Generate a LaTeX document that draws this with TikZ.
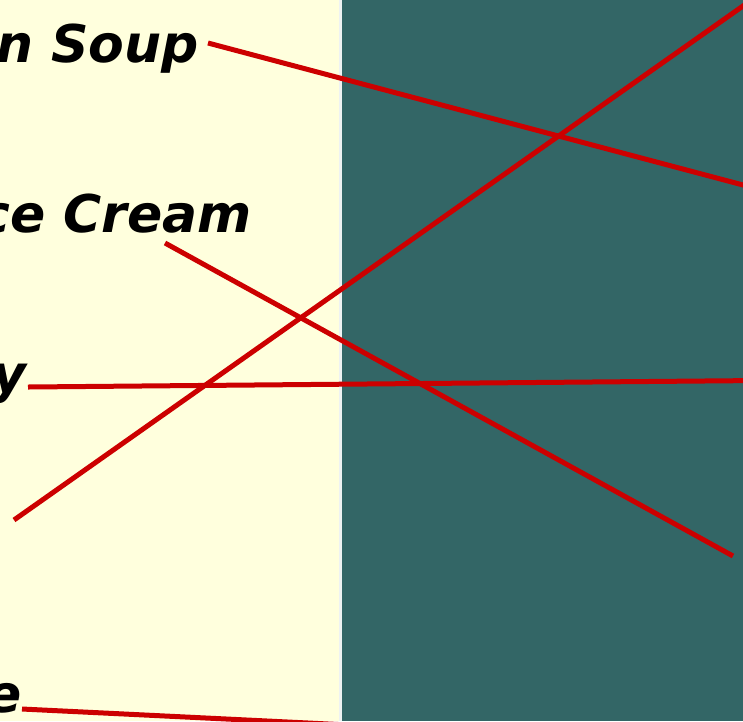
\documentclass[tikz,border=0pt]{standalone}
\usepackage{fontspec}
\setmainfont{DejaVu Sans}
\definecolor{bgyellow}{HTML}{FFFFDD}
\definecolor{bgteal}{HTML}{336666}
\definecolor{strip}{HTML}{EEF2F2}
\definecolor{linered}{HTML}{CC0000}
\begin{document}
\begin{tikzpicture}[x=1pt,y=-1pt,
  lbl/.style={font=\fontsize{52}{60}\selectfont\bfseries\itshape, inner sep=0pt, anchor=base east},
  link/.style={draw=linered, line width=5pt}]
\useasboundingbox (0,0) rectangle (743,721);
\clip (0,0) rectangle (743,721);
\fill[bgyellow] (0,0) rectangle (339,721);
\fill[strip] (339,0) rectangle (341.5,721);
\fill[bgteal] (341.5,0) rectangle (743,721);
\node[lbl] (soup) at (199,62) {n Soup};
\node[lbl] (cream) at (252,232) {ce Cream};
\node[lbl] (y) at (27,392) {y};
\node[lbl] (e) at (22,712) {e};
\coordinate (s1) at (208,43);
\coordinate (s2) at (760,189.5);
\coordinate (c1) at (165,243);
\coordinate (c2) at (733,556);
\coordinate (y1) at (28,387);
\coordinate (y2) at (760,380.5);
\coordinate (d1) at (14,520);
\coordinate (d2) at (760,-6);
\coordinate (e1) at (22,709);
\coordinate (e2) at (400,727.5);
\draw[link] (s1) -- (s2);
\draw[link] (c1) -- (c2);
\draw[link] (y1) -- (y2);
\draw[link] (d1) -- (d2);
\draw[link] (e1) -- (e2);
\end{tikzpicture}
\end{document}
